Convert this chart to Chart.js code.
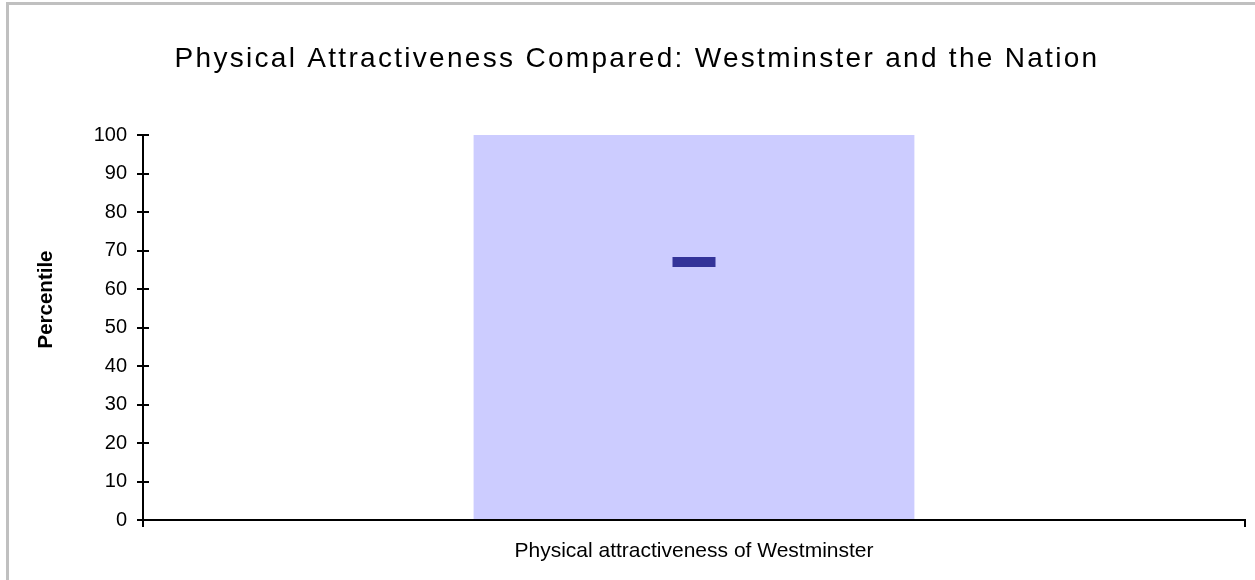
<!DOCTYPE html>
<html>
<head>
<meta charset="utf-8">
<script src="https://cdn.jsdelivr.net/npm/chart.js@4/dist/chart.umd.min.js"></script>
<style>
  html, body { margin: 0; padding: 0; background: #fff; overflow: hidden; }
  #frame {
    position: absolute; left: 6px; top: 2px;
    width: 1270px; height: 600px;
    border: 3px solid #c0c0c0; background: #fff;
  }
  #chart { position: absolute; left: 0; top: 0; }
</style>
</head>
<body>
<div id="frame">
  <canvas id="chart" width="1246" height="573"></canvas>
</div>
<script>
// datos
const categories = ['Physical attractiveness of Westminster'];
const nationRange = [100];
const westminsterScore = [67];
const yTicks = [0, 10, 20, 30, 40, 50, 60, 70, 80, 90, 100];

const FONT = 'Arial, "Liberation Sans", sans-serif';

// marcas cortas del eje Y hacia dentro del area
const innerTicks = {
  id: 'innerTicks',
  afterDatasetsDraw(chart) {
    const { ctx, chartArea } = chart;
    const y = chart.scales.y;
    ctx.save();
    ctx.strokeStyle = '#000';
    ctx.lineWidth = 2;
    yTicks.forEach(v => {
      const py = Math.round(y.getPixelForValue(v));
      ctx.beginPath();
      ctx.moveTo(chartArea.left, py);
      ctx.lineTo(chartArea.left + 6, py);
      ctx.stroke();
    });
    ctx.restore();
  }
};

// titulo con espaciado entre letras, titulo del eje Y algo mas arriba
const textTweaks = {
  id: 'textTweaks',
  afterInit(chart) {
    const tb = chart.titleBlock;
    if (!tb) return;
    const orig = tb.draw.bind(tb);
    tb.draw = () => {
      chart.ctx.save();
      chart.ctx.letterSpacing = '2.3px';
      chart.ctx.translate(10, 2);
      orig();
      chart.ctx.restore();
    };
  },
  beforeDraw(chart) {
    const s = chart.scales.y;
    if (s._shifted) return;
    const orig = s.drawTitle.bind(s);
    s.drawTitle = (...args) => {
      chart.ctx.save();
      chart.ctx.translate(0, -28);
      orig(...args);
      chart.ctx.restore();
    };
    s._shifted = true;
  }
};

new Chart(document.getElementById('chart').getContext('2d'), {
  data: {
    labels: categories,
    datasets: [
      {
        type: 'line',
        label: 'Westminster',
        data: westminsterScore,
        showLine: false,
        pointStyle: 'line',
        pointRadius: 21.5,
        pointBorderWidth: 10,
        pointBorderColor: '#333399',
        pointBackgroundColor: '#333399',
        order: 0
      },
      {
        type: 'bar',
        label: 'Nation',
        data: nationRange,
        backgroundColor: '#ccccff',
        borderWidth: 0,
        barPercentage: 0.4,
        categoryPercentage: 1.0,
        order: 1
      }
    ]
  },
  options: {
    responsive: false,
    animation: false,
    layout: { autoPadding: false, padding: { left: 0, right: 10, top: 0, bottom: 0 } },
    plugins: {
      legend: { display: false },
      tooltip: { enabled: false },
      title: {
        display: true,
        text: 'Physical Attractiveness Compared: Westminster and the Nation',
        color: '#000',
        font: { family: FONT, size: 28, weight: 'normal' },
        padding: { top: 35, bottom: 61.4 }
      }
    },
    scales: {
      x: {
        offset: true,
        grid: { drawOnChartArea: false, offset: true, tickLength: 7, color: '#000', lineWidth: 2 },
        border: { color: '#000', width: 2 },
        ticks: { color: '#000', padding: 12, font: { family: FONT, size: 21 } },
        afterFit(s) { s.height = 58; s.paddingLeft = 0; s.paddingRight = 0; }
      },
      y: {
        min: 0,
        max: 100,
        afterBuildTicks(s) { s.ticks = yTicks.map(v => ({ value: v })); },
        grid: { drawOnChartArea: false, tickLength: 6, color: '#000', lineWidth: 2 },
        border: { color: '#000', width: 2 },
        ticks: { color: '#000', padding: 10, font: { family: FONT, size: 20 } },
        title: {
          display: true,
          text: 'Percentile',
          color: '#000',
          font: { family: FONT, size: 20.5, weight: 'bold' },
          padding: { top: 25, bottom: 0 }
        },
        afterFit(s) { s.width = 134; }
      }
    }
  },
  plugins: [innerTicks, textTweaks]
});
</script>
</body>
</html>
